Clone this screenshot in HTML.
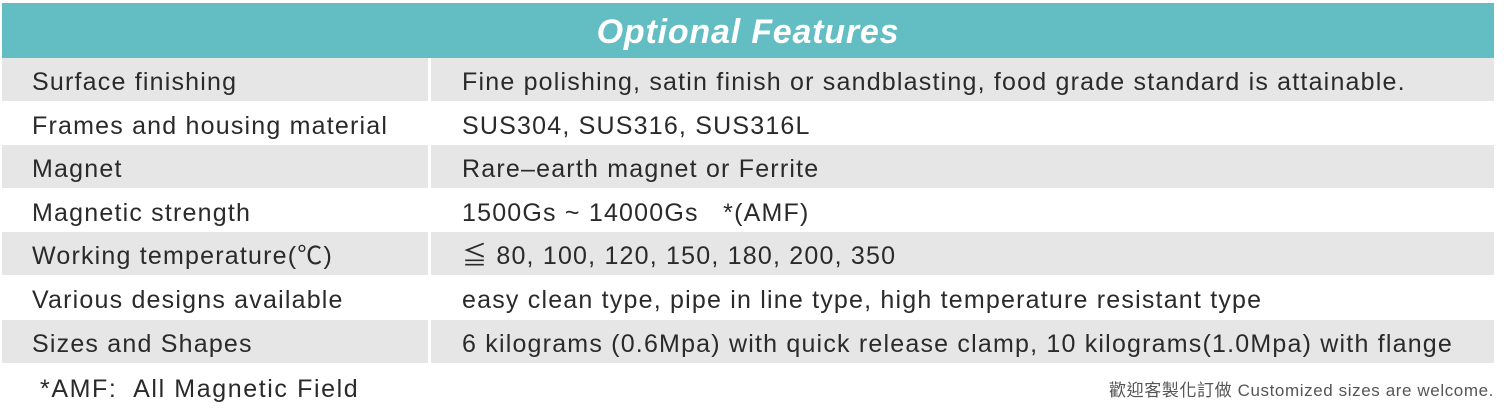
<!DOCTYPE html>
<html><head><meta charset="utf-8"><style>
body{margin:0;width:1505px;height:411px;background:#fff;position:relative;overflow:hidden;font-family:"Liberation Sans","Noto Sans CJK TC",sans-serif;color:#2a2a2a}
.h{position:absolute;left:2px;top:3px;width:1492px;height:55px;background:#62bec3;color:#fff;font-style:italic;font-weight:bold;font-size:34px;letter-spacing:0.8px;text-align:center;line-height:58px}
.r{position:absolute;left:2px;width:1492px;height:43px;font-size:25px;letter-spacing:1.2px;line-height:48px}
.g .a,.g .b{background:#e6e6e7}
.a{position:absolute;left:0;top:0;width:426px;height:100%;padding-left:30px;box-sizing:border-box;white-space:nowrap}
.b{position:absolute;left:429px;top:0;right:0;height:100%;padding-left:31px;box-sizing:border-box;white-space:nowrap}
</style></head><body>
<div class="h">Optional Features</div>
<div class="r g" style="top:58px"><div class="a">Surface finishing</div><div class="b">Fine polishing, satin finish or sandblasting, food grade standard is attainable.</div></div>
<div class="r" style="top:102px"><div class="a">Frames and housing material</div><div class="b">SUS304, SUS316, SUS316L</div></div>
<div class="r g" style="top:145px"><div class="a">Magnet</div><div class="b">Rare–earth magnet or Ferrite</div></div>
<div class="r" style="top:189px"><div class="a">Magnetic strength</div><div class="b">1500Gs ~ 14000Gs &nbsp;&nbsp;*(AMF)</div></div>
<div class="r g" style="top:232px"><div class="a">Working temperature(℃)</div><div class="b">≦ 80, 100, 120, 150, 180, 200, 350</div></div>
<div class="r" style="top:276px"><div class="a">Various designs available</div><div class="b">easy clean type, pipe in line type, high temperature resistant type</div></div>
<div class="r g" style="top:320px"><div class="a">Sizes and Shapes</div><div class="b">6 kilograms (0.6Mpa) with quick release clamp, 10 kilograms(1.0Mpa) with flange</div></div>
<div style="position:absolute;left:40px;top:375px;font-size:25px;letter-spacing:1.6px;white-space:nowrap">*AMF:&nbsp; All Magnetic Field</div>
<div style="position:absolute;right:11px;top:376px;font-size:17px;letter-spacing:0.6px;color:#555;white-space:nowrap">歡迎客製化訂做 Customized sizes are welcome.</div>
</body></html>
